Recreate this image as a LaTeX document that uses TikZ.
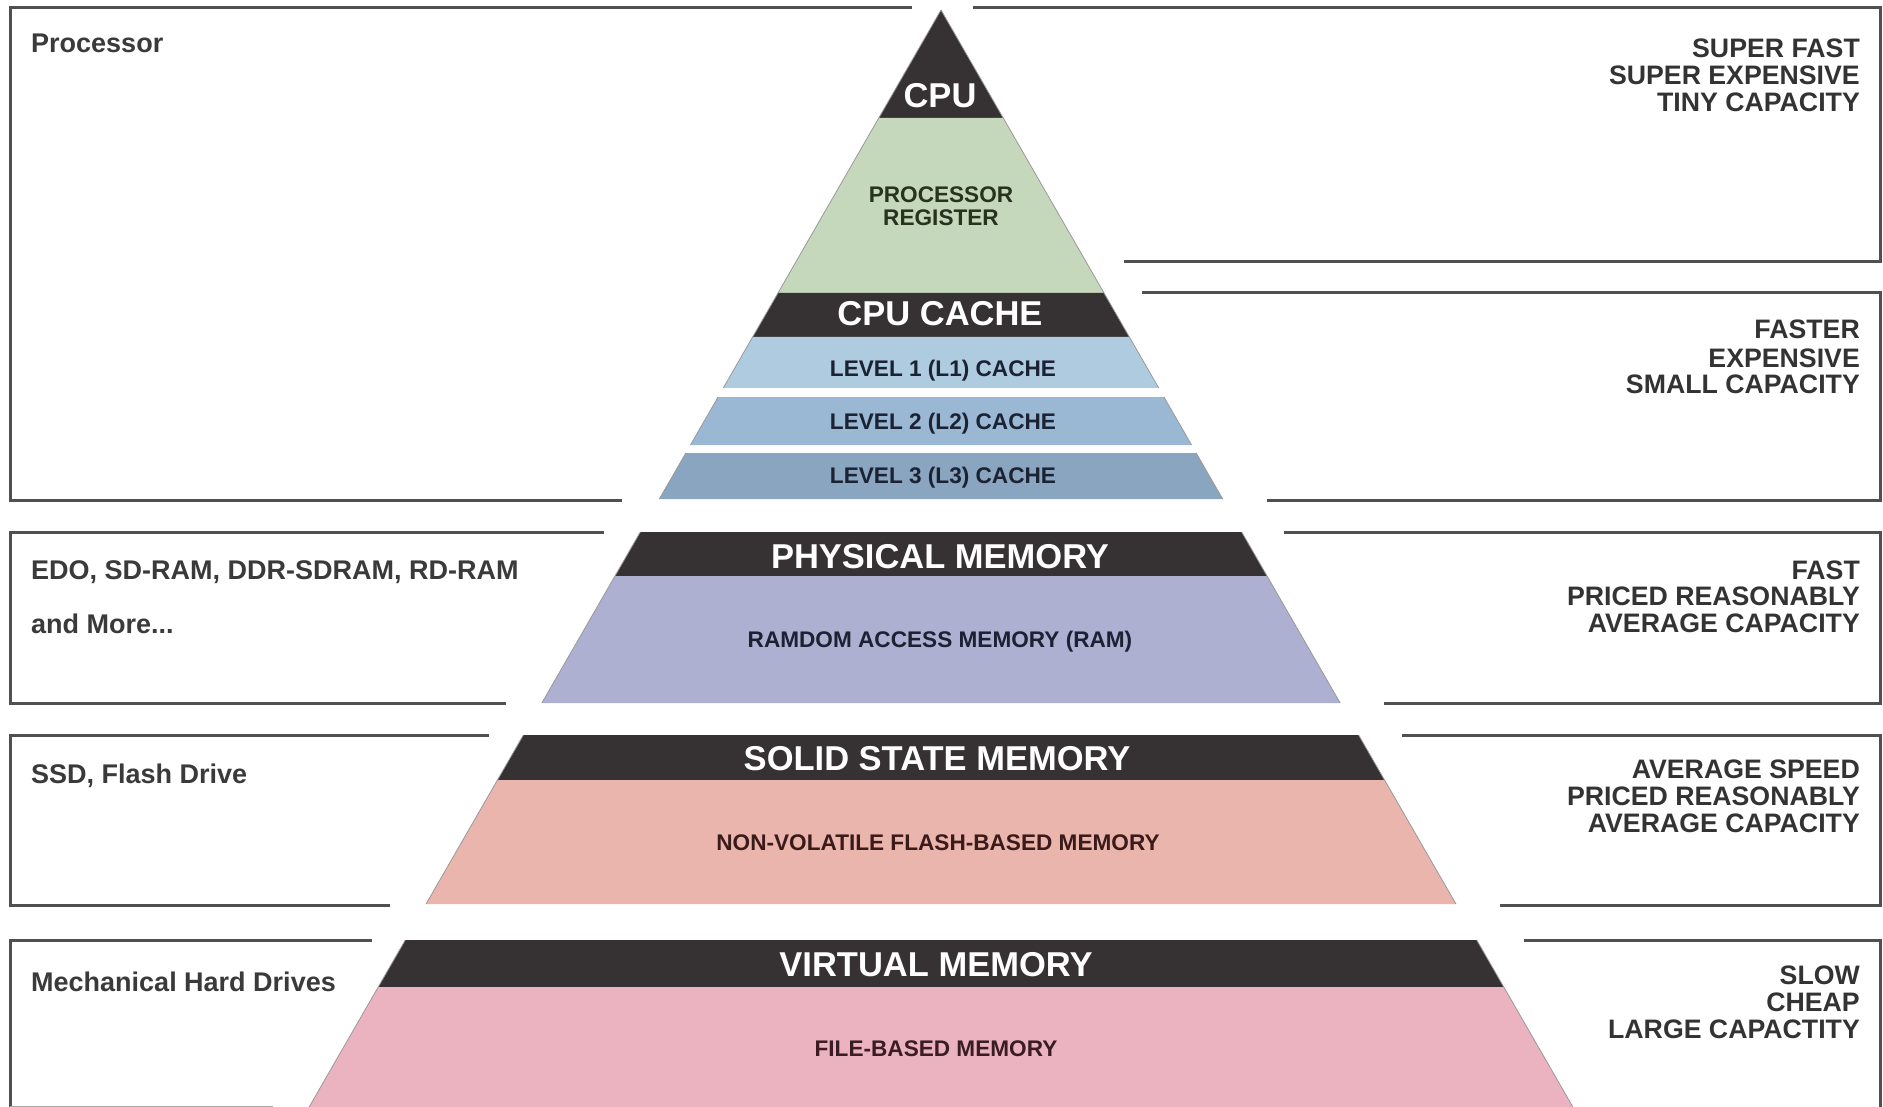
\documentclass[tikz,border=0pt]{standalone}
\usepackage{fontspec}
\setmainfont{Liberation Sans}
\definecolor{bandblack}{HTML}{363132}
\definecolor{regreen}{HTML}{C6D8BB}
\definecolor{lone}{HTML}{AFCBDF}
\definecolor{ltwo}{HTML}{9AB8D4}
\definecolor{lthree}{HTML}{8AA5BF}
\definecolor{ramc}{HTML}{ADB0D0}
\definecolor{flashc}{HTML}{EAB5AD}
\definecolor{filec}{HTML}{EAB3BF}
\definecolor{linegray}{HTML}{505050}
\definecolor{lefttext}{HTML}{3A3A3A}
\definecolor{righttext}{HTML}{333333}
\definecolor{greentext}{HTML}{27321F}
\definecolor{bluetext}{HTML}{1A2233}
\definecolor{redtext}{HTML}{3B1A1A}
\definecolor{pinktext}{HTML}{3A1D24}
\newcommand\tierfill[3]{%
  \fill[#3] ({941-0.576*(#1-10)},#1) -- ({941+0.576*(#1-10)},#1) -- ({941+0.576*(#2-10)},#2) -- ({941-0.576*(#2-10)},#2) -- cycle;
  \draw[edgeline] ({941-0.576*(#1-10)},#1) -- ({941-0.576*(#2-10)},#2) ({941+0.576*(#1-10)},#1) -- ({941+0.576*(#2-10)},#2);}
\begin{document}
\begin{tikzpicture}[x=1pt,y=-1pt,
  boxline/.style={draw=linegray,line width=3pt,line cap=butt,line join=miter},
  edgeline/.style={draw=black!40,line width=0.8pt},
  hdr/.style={text=white,font=\bfseries\fontsize{34.5}{40}\selectfont,inner sep=0pt,anchor=base},
  innertxt/.style={font=\bfseries\fontsize{22.6}{24}\selectfont,inner sep=0pt,anchor=base},
  lefttxt/.style={text=lefttext,font=\bfseries\fontsize{27}{30}\selectfont,inner sep=0pt,anchor=base west},
  righttxt/.style={text=righttext,font=\bfseries\fontsize{26.7}{27}\selectfont,inner sep=0pt,anchor=base east}]
\useasboundingbox (0,0) rectangle (1883,1107);
\fill[white] (0,0) rectangle (1883,1107);

% ---- pyramid tiers ----
\tierfill{10}{118}{bandblack}
\tierfill{118}{293}{regreen}
\tierfill{293}{337}{bandblack}
\tierfill{337}{388}{lone}
\tierfill{397}{445}{ltwo}
\tierfill{453}{499}{lthree}
\tierfill{532}{576}{bandblack}
\tierfill{576}{703}{ramc}
\tierfill{735}{780}{bandblack}
\tierfill{780}{904}{flashc}
\tierfill{940}{987}{bandblack}
\tierfill{987}{1107}{filec}

% ---- box outlines ----
\draw[boxline] (912,8) -- (10,8) -- (10,500) -- (622,500);
\draw[boxline] (973,8) -- (1880,8) -- (1880,262) -- (1124,262);
\draw[boxline] (1142,293) -- (1880,293) -- (1880,500) -- (1267,500);
\draw[boxline] (604,532) -- (10,532) -- (10,703) -- (506,703);
\draw[boxline] (1284,532) -- (1880,532) -- (1880,703) -- (1384,703);
\draw[boxline] (489,735) -- (10,735) -- (10,905) -- (390,905);
\draw[boxline] (1402,735) -- (1880,735) -- (1880,905) -- (1500,905);
\draw[boxline] (372,940) -- (10,940) -- (10,1107);
\draw[boxline, draw=linegray!50] (10,1107) -- (273,1107);
\draw[boxline] (1524,940) -- (1880,940) -- (1880,1107);

% ---- pyramid labels ----
\node[hdr] (cpu) at (940,108) {CPU};
\node[innertxt,text=greentext] (preg1) at (941,203) {PROCESSOR};
\node[innertxt,text=greentext] (preg2) at (941,226) {REGISTER};
\node[hdr] (cache) at (940,326) {CPU CACHE};
\node[innertxt,text=bluetext] (l1) at (943,377) {LEVEL 1 (L1) CACHE};
\node[innertxt,text=bluetext] (l2) at (943,429) {LEVEL 2 (L2) CACHE};
\node[innertxt,text=bluetext] (l3) at (943,483) {LEVEL 3 (L3) CACHE};
\node[hdr] (phys) at (940,568) {PHYSICAL MEMORY};
\node[innertxt,text=bluetext] (ram) at (940,647) {RAMDOM ACCESS MEMORY (RAM)};
\node[hdr] (ssm) at (937,770) {SOLID STATE MEMORY};
\node[innertxt,text=redtext] (flash) at (938,850) {NON-VOLATILE FLASH-BASED MEMORY};
\node[hdr] (virt) at (936,976) {VIRTUAL MEMORY};
\node[innertxt,text=pinktext] (file) at (936,1056) {FILE-BASED MEMORY};

% ---- left texts ----
\node[lefttxt] (proc) at (31,53) {Processor};
\node[lefttxt] (edo) at (31,579) {EDO, SD-RAM, DDR-SDRAM, RD-RAM};
\node[lefttxt] (more) at (31,633) {and More...};
\node[lefttxt] (ssd) at (31,783) {SSD, Flash Drive};
\node[lefttxt] (hdd) at (31,991) {Mechanical Hard Drives};

% ---- right texts ----
\node[righttxt] (r1a) at (1860,58) {SUPER FAST};
\node[righttxt] (r1b) at (1860,85) {SUPER EXPENSIVE};
\node[righttxt] (r1c) at (1860,112) {TINY CAPACITY};
\node[righttxt] (r2a) at (1860,339) {FASTER};
\node[righttxt] (r2b) at (1860,367) {EXPENSIVE};
\node[righttxt] (r2c) at (1860,394) {SMALL CAPACITY};
\node[righttxt] (r3a) at (1860,579) {FAST};
\node[righttxt] (r3b) at (1860,605) {PRICED REASONABLY};
\node[righttxt] (r3c) at (1860,632) {AVERAGE CAPACITY};
\node[righttxt] (r4a) at (1860,778) {AVERAGE SPEED};
\node[righttxt] (r4b) at (1860,805) {PRICED REASONABLY};
\node[righttxt] (r4c) at (1860,832) {AVERAGE CAPACITY};
\node[righttxt] (r5a) at (1860,984) {SLOW};
\node[righttxt] (r5b) at (1860,1011) {CHEAP};
\node[righttxt] (r5c) at (1860,1038) {LARGE CAPACTITY};
\end{tikzpicture}
\end{document}
